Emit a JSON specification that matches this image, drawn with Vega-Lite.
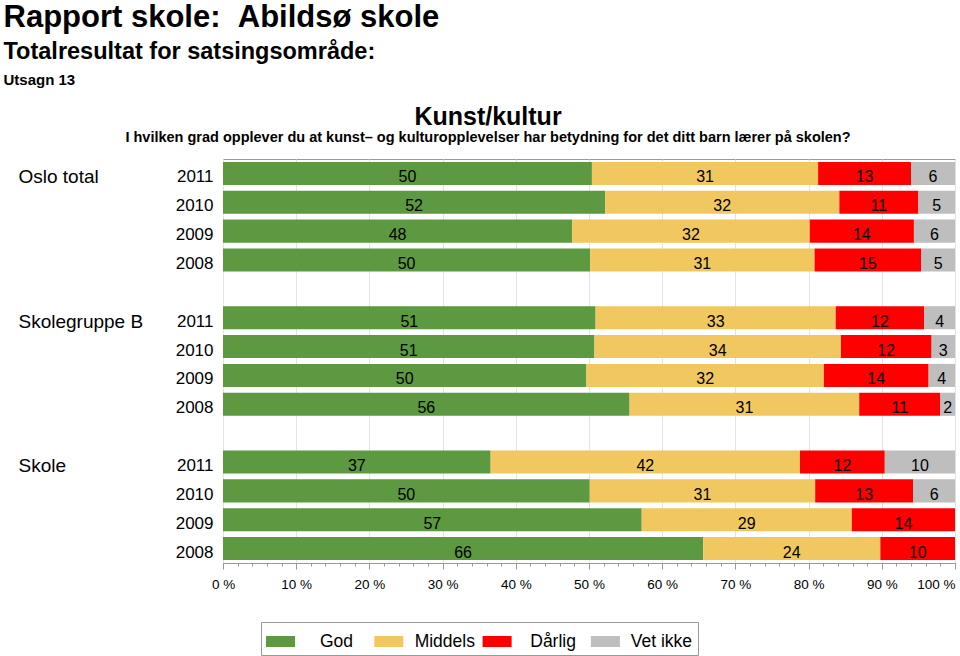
{
  "$schema": "https://vega.github.io/schema/vega-lite/v6.json",
  "padding": {"left": 3, "top": 1, "right": 0, "bottom": 0},
  "config": {
    "font": "Liberation Sans",
    "view": {"stroke": "#999999", "strokeWidth": 1},
    "title": {"font": "Liberation Sans", "fontWeight": "bold", "color": "black", "subtitleFont": "Liberation Sans", "subtitleFontWeight": "bold", "subtitleColor": "black"}
  },
  "title": {
    "text": "Rapport skole:\u00a0\u00a0Abildsø skole",
    "subtitle": "Totalresultat for satsingsområde:",
    "fontSize": 31,
    "subtitleFontSize": 23.5,
    "subtitlePadding": 6,
    "anchor": "start",
    "frame": "bounds",
    "offset": 9
  },
  "vconcat": [
    {
      "title": {"text": "Utsagn 13", "fontSize": 15, "anchor": "start", "frame": "bounds", "offset": 16},
      "vconcat": [
        {
          "title": {
            "text": "Kunst/kultur",
            "subtitle": "I hvilken grad opplever du at kunst– og kulturopplevelser har betydning for det ditt barn lærer på skolen?",
            "fontSize": 25,
            "subtitleFontSize": 14.5,
            "subtitlePadding": 1,
            "anchor": "middle",
            "frame": "group",
            "dx": -101,
            "offset": 15
          },
          "width": 732,
          "height": 404,
          "data": {
            "values": [
              {"gruppe": "Oslo total", "aar": "2011", "svar": "God", "pct": 50.4},
              {"gruppe": "Oslo total", "aar": "2011", "svar": "Middels", "pct": 30.9},
              {"gruppe": "Oslo total", "aar": "2011", "svar": "Dårlig", "pct": 12.7},
              {"gruppe": "Oslo total", "aar": "2011", "svar": "Vet ikke", "pct": 6.0},
              {"gruppe": "Oslo total", "aar": "2010", "svar": "God", "pct": 52.2},
              {"gruppe": "Oslo total", "aar": "2010", "svar": "Middels", "pct": 32.0},
              {"gruppe": "Oslo total", "aar": "2010", "svar": "Dårlig", "pct": 10.8},
              {"gruppe": "Oslo total", "aar": "2010", "svar": "Vet ikke", "pct": 5.0},
              {"gruppe": "Oslo total", "aar": "2009", "svar": "God", "pct": 47.6},
              {"gruppe": "Oslo total", "aar": "2009", "svar": "Middels", "pct": 32.4},
              {"gruppe": "Oslo total", "aar": "2009", "svar": "Dårlig", "pct": 14.2},
              {"gruppe": "Oslo total", "aar": "2009", "svar": "Vet ikke", "pct": 5.6},
              {"gruppe": "Oslo total", "aar": "2008", "svar": "God", "pct": 50.2},
              {"gruppe": "Oslo total", "aar": "2008", "svar": "Middels", "pct": 30.7},
              {"gruppe": "Oslo total", "aar": "2008", "svar": "Dårlig", "pct": 14.6},
              {"gruppe": "Oslo total", "aar": "2008", "svar": "Vet ikke", "pct": 4.6},
              {"gruppe": "Skolegruppe B", "aar": "2011", "svar": "God", "pct": 50.9},
              {"gruppe": "Skolegruppe B", "aar": "2011", "svar": "Middels", "pct": 32.8},
              {"gruppe": "Skolegruppe B", "aar": "2011", "svar": "Dårlig", "pct": 12.1},
              {"gruppe": "Skolegruppe B", "aar": "2011", "svar": "Vet ikke", "pct": 4.2},
              {"gruppe": "Skolegruppe B", "aar": "2010", "svar": "God", "pct": 50.8},
              {"gruppe": "Skolegruppe B", "aar": "2010", "svar": "Middels", "pct": 33.7},
              {"gruppe": "Skolegruppe B", "aar": "2010", "svar": "Dårlig", "pct": 12.4},
              {"gruppe": "Skolegruppe B", "aar": "2010", "svar": "Vet ikke", "pct": 3.2},
              {"gruppe": "Skolegruppe B", "aar": "2009", "svar": "God", "pct": 49.6},
              {"gruppe": "Skolegruppe B", "aar": "2009", "svar": "Middels", "pct": 32.4},
              {"gruppe": "Skolegruppe B", "aar": "2009", "svar": "Dårlig", "pct": 14.3},
              {"gruppe": "Skolegruppe B", "aar": "2009", "svar": "Vet ikke", "pct": 3.6},
              {"gruppe": "Skolegruppe B", "aar": "2008", "svar": "God", "pct": 55.6},
              {"gruppe": "Skolegruppe B", "aar": "2008", "svar": "Middels", "pct": 31.4},
              {"gruppe": "Skolegruppe B", "aar": "2008", "svar": "Dårlig", "pct": 11.1},
              {"gruppe": "Skolegruppe B", "aar": "2008", "svar": "Vet ikke", "pct": 2.0},
              {"gruppe": "Skole", "aar": "2011", "svar": "God", "pct": 36.6},
              {"gruppe": "Skole", "aar": "2011", "svar": "Middels", "pct": 42.3},
              {"gruppe": "Skole", "aar": "2011", "svar": "Dårlig", "pct": 11.6},
              {"gruppe": "Skole", "aar": "2011", "svar": "Vet ikke", "pct": 9.6},
              {"gruppe": "Skole", "aar": "2010", "svar": "God", "pct": 50.1},
              {"gruppe": "Skole", "aar": "2010", "svar": "Middels", "pct": 30.8},
              {"gruppe": "Skole", "aar": "2010", "svar": "Dårlig", "pct": 13.4},
              {"gruppe": "Skole", "aar": "2010", "svar": "Vet ikke", "pct": 5.7},
              {"gruppe": "Skole", "aar": "2009", "svar": "God", "pct": 57.2},
              {"gruppe": "Skole", "aar": "2009", "svar": "Middels", "pct": 28.7},
              {"gruppe": "Skole", "aar": "2009", "svar": "Dårlig", "pct": 14.1},
              {"gruppe": "Skole", "aar": "2008", "svar": "God", "pct": 65.6},
              {"gruppe": "Skole", "aar": "2008", "svar": "Middels", "pct": 24.2},
              {"gruppe": "Skole", "aar": "2008", "svar": "Dårlig", "pct": 10.2}
            ]
          },
          "transform": [
            {"calculate": "datum.gruppe + '|' + datum.aar", "as": "rad"},
            {"calculate": "indexof(['God','Middels','Dårlig','Vet ikke'], datum.svar)", "as": "rekkefolge"}
          ],
          "encoding": {
            "y": {
              "field": "rad",
              "type": "nominal",
              "scale": {
                "domain": [
                  "Oslo total|2011", "Oslo total|2010", "Oslo total|2009", "Oslo total|2008", "~1",
                  "Skolegruppe B|2011", "Skolegruppe B|2010", "Skolegruppe B|2009", "Skolegruppe B|2008", "~2",
                  "Skole|2011", "Skole|2010", "Skole|2009", "Skole|2008"
                ],
                "paddingInner": 0.2,
                "paddingOuter": 0.1
              }
            },
            "order": {"field": "rekkefolge", "type": "quantitative"}
          },
          "layer": [
            {
              "mark": {"type": "bar"},
              "encoding": {
                "x": {
                  "field": "pct",
                  "type": "quantitative",
                  "stack": "normalize",
                  "scale": {"domain": [0, 1], "nice": false},
                  "axis": {
                    "title": null,
                    "values": [0, 0.02, 0.04, 0.06, 0.08, 0.1, 0.12, 0.14, 0.16, 0.18, 0.2, 0.22, 0.24, 0.26, 0.28, 0.3, 0.32, 0.34, 0.36, 0.38, 0.4, 0.42, 0.44, 0.46, 0.48, 0.5, 0.52, 0.54, 0.56, 0.58, 0.6, 0.62, 0.64, 0.66, 0.68, 0.7, 0.72, 0.74, 0.76, 0.78, 0.8, 0.82, 0.84, 0.86, 0.88, 0.9, 0.92, 0.94, 0.96, 0.98, 1],
                    "labelExpr": "round(datum.value*100) % 10 === 0 ? round(datum.value*100) + ' %' : ''",
                    "labelFontSize": 13.5,
                    "labelColor": "black",
                    "labelPadding": 8,
                    "labelAlign": {"condition": {"test": "datum.value >= 0.999", "value": "right"}, "value": "center"},
                    "tickSize": {"condition": {"test": "round(datum.value*100) % 10 === 0", "value": 6}, "value": 3},
                    "tickColor": "#999999",
                    "domainColor": "#999999",
                    "grid": true,
                    "gridColor": "#e3e3e3",
                    "gridOpacity": {"condition": {"test": "round(datum.value*100) % 10 === 0", "value": 1}, "value": 0}
                  }
                },
                "y": {
                  "field": "rad",
                  "type": "nominal",
                  "axis": {
                    "orient": "left",
                    "title": null,
                    "ticks": false,
                    "domain": false,
                    "tickSize": 0,
                    "labelExpr": "indexof(datum.value, '|') >= 0 ? split(datum.value, '|')[1] : ''",
                    "labelFontSize": 17,
                    "labelColor": "black",
                    "labelPadding": 10,
                    "labelOffset": 4,
                    "minExtent": 219,
                    "maxExtent": 219
                  }
                },
                "color": {
                  "field": "svar",
                  "type": "nominal",
                  "sort": ["God", "Middels", "Dårlig", "Vet ikke"],
                  "scale": {"domain": ["God", "Middels", "Dårlig", "Vet ikke"], "range": ["#5c9940", "#f0c85f", "#ff0000", "#bebebe"]},
                  "legend": {
                    "title": null,
                    "orient": "none",
                    "legendX": 38,
                    "legendY": 463,
                    "direction": "horizontal",
                    "columns": 4,
                    "symbolType": "M-1,-0.38H1V0.38H-1Z",
                    "symbolSize": 841,
                    "symbolStrokeWidth": 0,
                    "symbolOpacity": 1,
                    "labelFontSize": 17.5,
                    "labelColor": "black",
                    "labelAlign": "center",
                    "labelOffset": 41.5,
                    "labelLimit": 0,
                    "gridAlign": "all",
                    "columnPadding": 6.3,
                    "padding": 5,
                    "strokeColor": "#999999",
                    "fillColor": "white"
                  }
                }
              }
            },
            {
              "mark": {"type": "text", "fontSize": 16, "color": "black", "dy": 4},
              "encoding": {
                "x": {"field": "pct", "type": "quantitative", "stack": "normalize", "bandPosition": 0.5, "axis": null},
                "y": {
                  "field": "rad",
                  "type": "nominal",
                  "axis": {
                    "orient": "left",
                    "title": null,
                    "ticks": false,
                    "domain": false,
                    "tickSize": 0,
                    "labelExpr": "indexof(datum.value, '|2011') >= 0 ? split(datum.value, '|')[0] : ''",
                    "labelFontSize": 19,
                    "labelColor": "black",
                    "labelAlign": "left",
                    "labelPadding": 205,
                    "labelOffset": 4,
                    "labelLimit": 0
                  }
                },
                "detail": {"field": "svar"},
                "text": {"field": "pct", "type": "quantitative", "format": ".0f"}
              }
            }
          ],
          "resolve": {"axis": {"x": "independent", "y": "independent"}}
        }
      ]
    }
  ]
}
